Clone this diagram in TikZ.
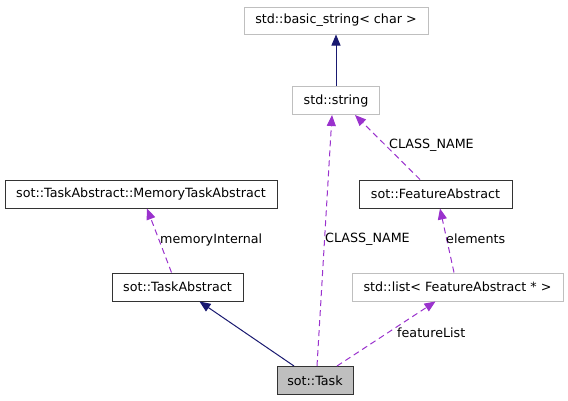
\documentclass[tikz,border=0pt]{standalone}
\usepackage{fontspec}
\setmainfont{DejaVu Sans}
\usepackage{tikz}
\usetikzlibrary{arrows.meta}
\definecolor{inhblue}{HTML}{191970}
\definecolor{usepurple}{HTML}{9A32CD}
\definecolor{extgray}{HTML}{BFBFBF}

\begin{document}
\begin{tikzpicture}[x=1pt, y=-1pt,
    cls/.style={draw=black!80, line width=1pt, inner sep=0pt, minimum height=28pt,
                font=\fontsize{12.7}{15}\selectfont},
    ext/.style={draw=extgray},
    inherit/.style={draw=inhblue, line width=1pt, -{Triangle[length=11pt, width=9pt]}},
    uses/.style={draw=usepurple, line width=1pt, dash pattern=on 6pt off 4pt,
                 -{Triangle[length=11pt, width=9pt]}},
    lbl/.style={inner sep=0pt, anchor=west, font=\fontsize{12.7}{15}\selectfont},
  ]
    \useasboundingbox (0,0) rectangle (568,400);
    % classes
    \node[cls, ext, minimum width=184pt, minimum height=27pt] (bstr) at (336,20.5)
      {std::basic\_string< char >};
    \node[cls, ext, minimum width=87pt]  (str)  at (336,100.5) {std::string};
    \node[cls, minimum width=272pt] (mem)  at (141,194)   {sot::TaskAbstract::MemoryTaskAbstract};
    \node[cls, minimum width=131pt] (tabs) at (177.5,287) {sot::TaskAbstract};
    \node[cls, minimum width=153pt] (fabs) at (435.5,194) {sot::FeatureAbstract};
    \node[cls, ext, minimum width=211pt] (list) at (457.5,287) {std::list< FeatureAbstract * >};
    \node[cls, fill=extgray, minimum width=76pt] (task) at (315,380.5) {sot::Task};

    % inheritance
    \draw[inherit] (str.north) -- (bstr.south);
    \draw[inherit] ([xshift=-21pt]task.north) -- ([xshift=22pt]tabs.south);

    % usage
    \draw[uses] ([xshift=-6pt]tabs.north) -- ([xshift=6pt]mem.south);
    \draw[uses] ([xshift=2pt]task.north) -- ([xshift=-4pt]str.south);
    \draw[uses] ([xshift=-15.5pt]fabs.north) -- ([xshift=19pt]str.south);
    \draw[uses] ([xshift=-3.5pt]list.north) -- ([xshift=4.5pt]fabs.south);
    \draw[uses] ([xshift=22pt]task.north) -- ([xshift=-22pt]list.south);

    % edge labels
    \node[lbl] (lmem)  at (160,240) {memoryInternal};
    \node[lbl] (lcls)  at (325,239) {CLASS\_NAME};
    \node[lbl] (lcls2) at (389,145) {CLASS\_NAME};
    \node[lbl] (lelem) at (446,239) {elements};
    \node[lbl] (lfeat) at (397,333) {featureList};
  \end{tikzpicture}
\end{document}
